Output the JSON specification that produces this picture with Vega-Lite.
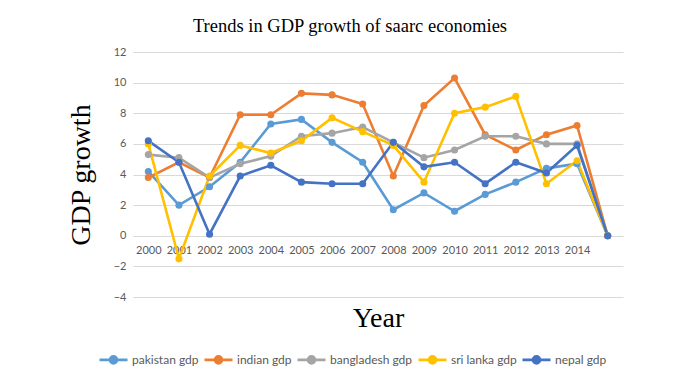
{
  "$schema": "https://vega.github.io/schema/vega-lite/v6.json",
  "autosize": "none",
  "width": 490,
  "height": 245,
  "padding": {"left": 133, "top": 52, "right": 77, "bottom": 87},
  "background": "white",
  "title": {
    "text": "Trends in GDP growth of saarc economies",
    "font": "Liberation Serif",
    "fontSize": 18.5,
    "fontWeight": "normal",
    "color": "#000000",
    "anchor": "middle",
    "dx": -28,
    "offset": 11
  },
  "data": {
    "values": [
      {"year": "2000", "pakistan gdp": 4.2, "indian gdp": 3.8, "bangladesh gdp": 5.3, "sri lanka gdp": 6.0, "nepal gdp": 6.2},
      {"year": "2001", "pakistan gdp": 2.0, "indian gdp": 4.8, "bangladesh gdp": 5.1, "sri lanka gdp": -1.5, "nepal gdp": 4.8},
      {"year": "2002", "pakistan gdp": 3.2, "indian gdp": 3.8, "bangladesh gdp": 3.8, "sri lanka gdp": 3.9, "nepal gdp": 0.1},
      {"year": "2003", "pakistan gdp": 4.8, "indian gdp": 7.9, "bangladesh gdp": 4.7, "sri lanka gdp": 5.9, "nepal gdp": 3.9},
      {"year": "2004", "pakistan gdp": 7.3, "indian gdp": 7.9, "bangladesh gdp": 5.2, "sri lanka gdp": 5.4, "nepal gdp": 4.6},
      {"year": "2005", "pakistan gdp": 7.6, "indian gdp": 9.3, "bangladesh gdp": 6.5, "sri lanka gdp": 6.2, "nepal gdp": 3.5},
      {"year": "2006", "pakistan gdp": 6.1, "indian gdp": 9.2, "bangladesh gdp": 6.7, "sri lanka gdp": 7.7, "nepal gdp": 3.4},
      {"year": "2007", "pakistan gdp": 4.8, "indian gdp": 8.6, "bangladesh gdp": 7.1, "sri lanka gdp": 6.8, "nepal gdp": 3.4},
      {"year": "2008", "pakistan gdp": 1.7, "indian gdp": 3.9, "bangladesh gdp": 6.1, "sri lanka gdp": 5.9, "nepal gdp": 6.1},
      {"year": "2009", "pakistan gdp": 2.8, "indian gdp": 8.5, "bangladesh gdp": 5.1, "sri lanka gdp": 3.5, "nepal gdp": 4.5},
      {"year": "2010", "pakistan gdp": 1.6, "indian gdp": 10.3, "bangladesh gdp": 5.6, "sri lanka gdp": 8.0, "nepal gdp": 4.8},
      {"year": "2011", "pakistan gdp": 2.7, "indian gdp": 6.6, "bangladesh gdp": 6.5, "sri lanka gdp": 8.4, "nepal gdp": 3.4},
      {"year": "2012", "pakistan gdp": 3.5, "indian gdp": 5.6, "bangladesh gdp": 6.5, "sri lanka gdp": 9.1, "nepal gdp": 4.8},
      {"year": "2013", "pakistan gdp": 4.4, "indian gdp": 6.6, "bangladesh gdp": 6.0, "sri lanka gdp": 3.4, "nepal gdp": 4.1},
      {"year": "2014", "pakistan gdp": 4.7, "indian gdp": 7.2, "bangladesh gdp": 6.0, "sri lanka gdp": 4.9, "nepal gdp": 5.9},
      {"year": "", "pakistan gdp": 0, "indian gdp": 0, "bangladesh gdp": 0, "sri lanka gdp": 0, "nepal gdp": 0}
    ]
  },
  "transform": [
    {"fold": ["pakistan gdp", "indian gdp", "bangladesh gdp", "sri lanka gdp", "nepal gdp"], "as": ["series", "gdp"]}
  ],
  "mark": {"type": "line", "strokeWidth": 2.6, "point": {"filled": true, "size": 50}},
  "encoding": {
    "x": {
      "field": "year",
      "type": "ordinal",
      "sort": ["2000","2001","2002","2003","2004","2005","2006","2007","2008","2009","2010","2011","2012","2013","2014",""],
      "scale": {"type": "point", "padding": 0.5},
      "axis": {
        "title": "Year",
        "titleFont": "Liberation Serif",
        "titleFontSize": 28,
        "titleFontWeight": "normal",
        "titleColor": "#000000",
        "titlePadding": 49,
        "offset": -61,
        "labelAngle": 0,
        "labelFont": "Lato",
        "labelFontSize": 11,
        "labelColor": "#595959",
        "labelPadding": 8,
        "ticks": false,
        "domain": false,
        "grid": false
      }
    },
    "y": {
      "field": "gdp",
      "type": "quantitative",
      "scale": {"domain": [-4, 12], "nice": false, "zero": false},
      "axis": {
        "values": [-4, -2, 0, 2, 4, 6, 8, 10, 12],
        "title": "GDP growth",
        "titleFont": "Liberation Serif",
        "titleFontSize": 28,
        "titleFontWeight": "normal",
        "titleColor": "#000000",
        "titlePadding": 18,
        "labelFont": "Lato",
        "labelFontSize": 11,
        "labelColor": "#595959",
        "labelPadding": 7,
        "ticks": false,
        "domain": false,
        "grid": true,
        "gridColor": "#d9d9d9",
        "gridWidth": 1
      }
    },
    "color": {
      "field": "series",
      "type": "nominal",
      "scale": {
        "domain": ["pakistan gdp", "indian gdp", "bangladesh gdp", "sri lanka gdp", "nepal gdp"],
        "range": ["#5B9BD5", "#ED7D31", "#A5A5A5", "#FFC000", "#4472C4"]
      },
      "legend": {
        "title": null,
        "orient": "none",
        "direction": "horizontal",
        "legendX": -35,
        "legendY": 292,
        "symbolType": "M-1,0H1M0.25,0A0.25,0.25,0,1,1,-0.25,0A0.25,0.25,0,1,1,0.25,0",
        "symbolSize": 784,
        "symbolStrokeWidth": 2.6,
        "labelFont": "Lato",
        "labelFontSize": 12,
        "labelColor": "#595959",
        "labelOffset": 3,
        "columnPadding": 0,
        "encode": {
          "symbols": {
            "update": {
              "fill": {"scale": "color", "field": "value"},
              "stroke": {"scale": "color", "field": "value"}
            }
          }
        }
      }
    }
  },
  "config": {
    "view": {"stroke": null}
  }
}
